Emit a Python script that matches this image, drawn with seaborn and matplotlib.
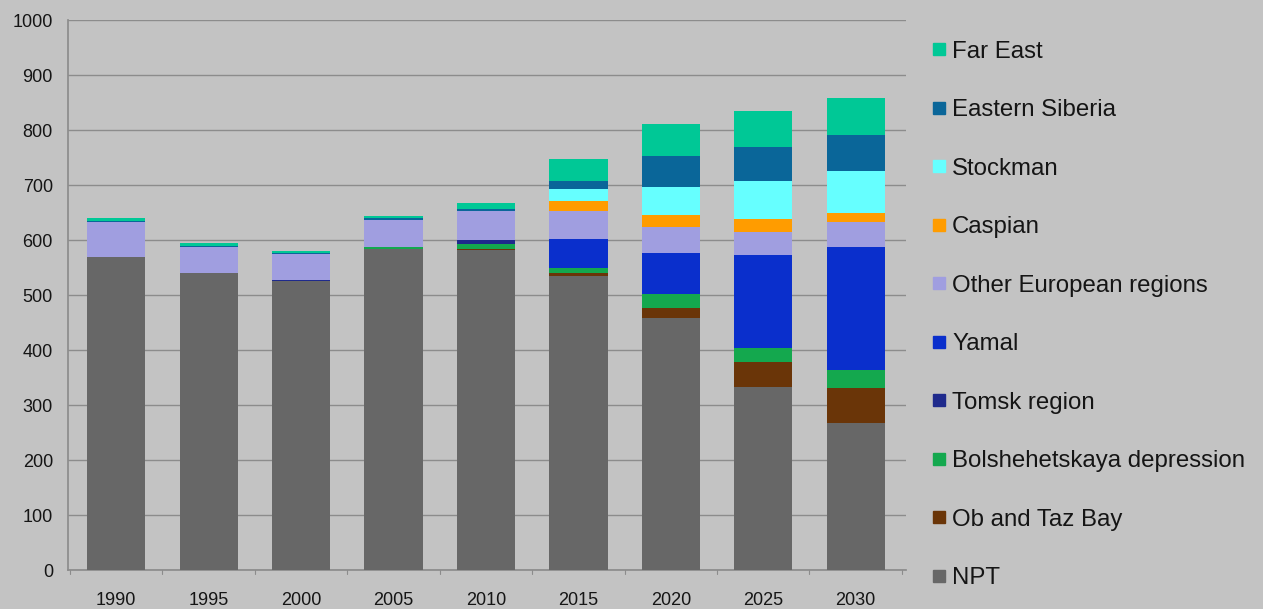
import numpy as np
import pandas as pd
import matplotlib
matplotlib.use("Agg")
import matplotlib.pyplot as plt
from matplotlib.lines import Line2D
import seaborn as sns

years = ["1990", "1995", "2000", "2005", "2010", "2015", "2020", "2025", "2030"]

# Production by region (stacked bottom to top)
npt            = [570, 540, 526, 584, 582, 535, 458, 332, 268]
ob_taz_bay     = [0, 0, 0, 0, 2, 6, 18, 47, 63]
bolshehetskaya = [0, 0, 0, 3, 8, 8, 26, 25, 33]
tomsk          = [0, 0, 2, 0, 8, 0, 0, 0, 0]
yamal          = [0, 0, 0, 0, 0, 53, 75, 169, 223]
other_european = [62, 47, 47, 50, 52, 50, 46, 42, 45]
caspian        = [0, 0, 0, 0, 0, 19, 22, 24, 18]
stockman       = [0, 0, 0, 0, 0, 22, 52, 68, 75]
eastern_sib    = [3, 2, 1, 3, 4, 15, 56, 62, 66]
far_east       = [5, 6, 5, 3, 12, 40, 58, 65, 68]

series = [
    ("NPT", npt, "#676767"),
    ("Ob and Taz Bay", ob_taz_bay, "#6a3508"),
    ("Bolshehetskaya depression", bolshehetskaya, "#14a84e"),
    ("Tomsk region", tomsk, "#1f2a8c"),
    ("Yamal", yamal, "#0a2fcc"),
    ("Other European regions", other_european, "#a09ee0"),
    ("Caspian", caspian, "#ff9c00"),
    ("Stockman", stockman, "#66ffff"),
    ("Eastern Siberia", eastern_sib, "#0a6699"),
    ("Far East", far_east, "#00c896"),
]

sns.set_theme(style="white")
plt.rcParams["font.family"] = ["Liberation Sans", "DejaVu Sans"]

bg = "#c3c3c3"
fig = plt.figure(figsize=(12.63, 6.09), dpi=100, facecolor=bg)
ax = fig.add_axes([0.054, 0.064, 0.663, 0.903], facecolor=bg)

# Stacked bars: draw cumulative totals from the top layer down
cum = np.cumsum(np.array([s[1] for s in series], dtype=float), axis=0)
for i in range(len(series) - 1, -1, -1):
    df = pd.DataFrame({"year": years, "value": cum[i]})
    sns.barplot(data=df, x="year", y="value", color=series[i][2],
                saturation=1, width=0.63, ax=ax, linewidth=0, zorder=3)

ax.set_xlim(-0.52, 8.54)
ax.set_ylim(0, 1000)
ax.set_yticks(np.arange(0, 1001, 100))
ax.yaxis.grid(True, color="#8c8c8c", linewidth=1.0, zorder=0)
ax.set_axisbelow(True)
ax.set_xlabel("")
ax.set_ylabel("")
for side in ["top", "right"]:
    ax.spines[side].set_visible(False)
ax.spines["left"].set_color("#8c8c8c")
ax.spines["bottom"].set_color("#8c8c8c")
ax.tick_params(axis="both", labelsize=13, colors="#151515", length=0)
ax.tick_params(axis="x", pad=16)
ax.tick_params(axis="y", pad=11)

# Small category-boundary ticks on the x axis
for b in np.arange(-0.5, 9.0, 1.0):
    ax.plot([b, b], [0, -8], color="#8c8c8c", lw=0.8, clip_on=False, zorder=2)

handles = [Line2D([], [], marker="s", linestyle="none", markersize=8,
                  markerfacecolor=c, markeredgecolor=c, label=n)
           for n, _, c in series[::-1]]
fig.legend(handles=handles, loc="upper left", bbox_to_anchor=(0.7215, 0.969),
           frameon=False, fontsize=17.3, labelspacing=1.52,
           handlelength=0.5, handletextpad=0.3, labelcolor="#151515")

fig.savefig("out.png", dpi=100, facecolor=bg)
